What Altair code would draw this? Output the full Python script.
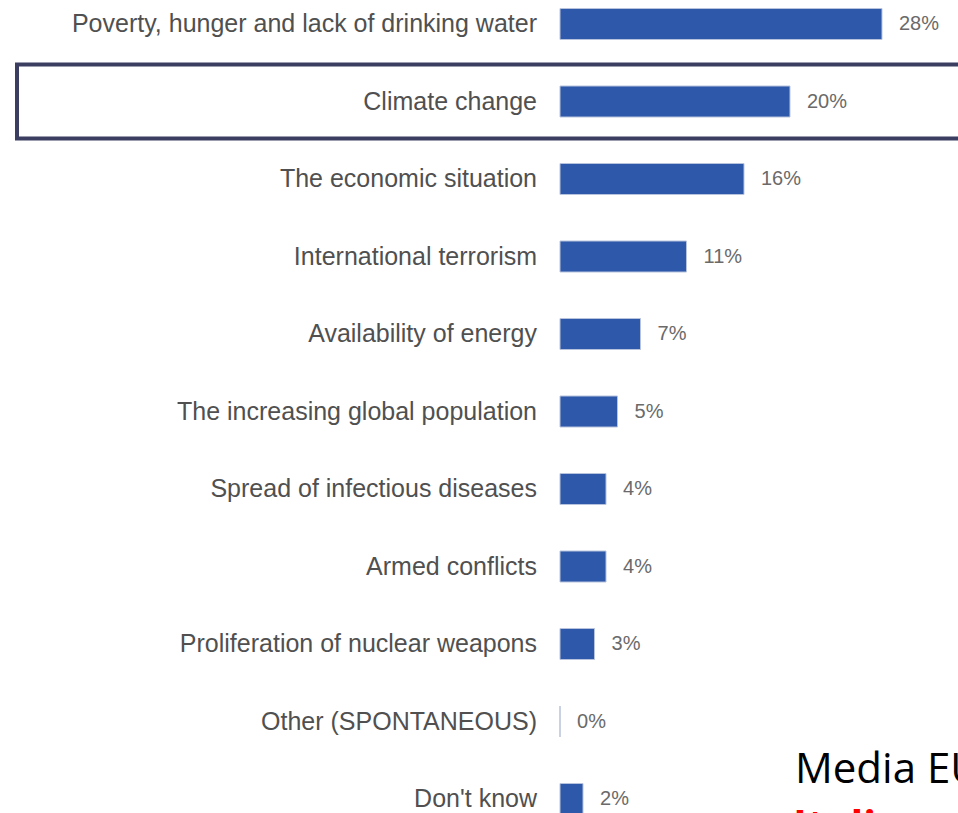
import altair as alt
import pandas as pd

categories = [
    "Poverty, hunger and lack of drinking water",
    "Climate change",
    "The economic situation",
    "International terrorism",
    "Availability of energy",
    "The increasing global population",
    "Spread of infectious diseases",
    "Armed conflicts",
    "Proliferation of nuclear weapons",
    "Other (SPONTANEOUS)",
    "Don't know",
]
values = [28, 20, 16, 11, 7, 5, 4, 4, 3, 0, 2]
value_labels = ["28%", "20%", "16%", "11%", "7%", "5%", "4%", "4%", "3%", "0%", "2%"]
highlight = "Climate change"

df = pd.DataFrame({
    "cat": categories,
    "val": values,
    "lab": value_labels,
    "row": list(range(len(categories))),
})

W, H = 958, 813
xscale = alt.Scale(domain=[-48.7, 34.61], nice=False, zero=False)
yscale = alt.Scale(domain=[-0.3097, 10.1806], nice=False, zero=False, reverse=True)

base = alt.Chart(df)

bars = base.mark_rect(color="#2e58aa", stroke="#b7c3dc", strokeWidth=1).transform_calculate(
    y0="datum.row - 0.2", y1="datum.row + 0.2", zero="0"
).encode(
    x=alt.X("zero:Q", scale=xscale, axis=None),
    x2="val:Q",
    y=alt.Y("y0:Q", scale=yscale, axis=None),
    y2="y1:Q",
)

cat_text = base.mark_text(
    align="right", baseline="middle", dx=-23, fontSize=25,
    font="Liberation Sans", color="#505050"
).transform_calculate(zero="0").encode(
    x=alt.X("zero:Q", scale=xscale, axis=None),
    y=alt.Y("row:Q", scale=yscale, axis=None),
    text="cat:N",
)

val_text = base.mark_text(
    align="left", baseline="middle", dx=17, fontSize=20,
    font="Liberation Sans", color="#6a6a6a"
).encode(
    x=alt.X("val:Q", scale=xscale, axis=None),
    y=alt.Y("row:Q", scale=yscale, axis=None),
    text="lab:N",
)

box = base.mark_rect(fillOpacity=0, stroke="#3b3e60", strokeWidth=4).transform_filter(
    alt.datum.cat == highlight
).transform_calculate(
    b0="datum.row - 0.477", b1="datum.row + 0.477"
).encode(
    x=alt.value(17),
    x2=alt.value(W + 20),
    y=alt.Y("b0:Q", scale=yscale, axis=None),
    y2="b1:Q",
)

media = alt.Chart(pd.DataFrame({"t": ["Media EU"]})).mark_text(
    align="left", baseline="alphabetic", fontSize=42, font="Open Sans", color="#000000"
).encode(x=alt.value(795), y=alt.value(783), text="t:N")

red = alt.Chart(pd.DataFrame({"t": ["Italia"]})).mark_text(
    align="left", baseline="alphabetic", fontSize=42, font="Open Sans",
    fontWeight="bold", color="#ff0000"
).encode(x=alt.value(793), y=alt.value(840), text="t:N")

chart = alt.layer(bars, cat_text, val_text, box, media, red).properties(
    width=W, height=H, padding=0,
    autosize=alt.AutoSizeParams(type="none"),
    background="white",
).configure_view(stroke=None)

chart.save("out.html", embed_options={"renderer": "svg", "actions": False})
